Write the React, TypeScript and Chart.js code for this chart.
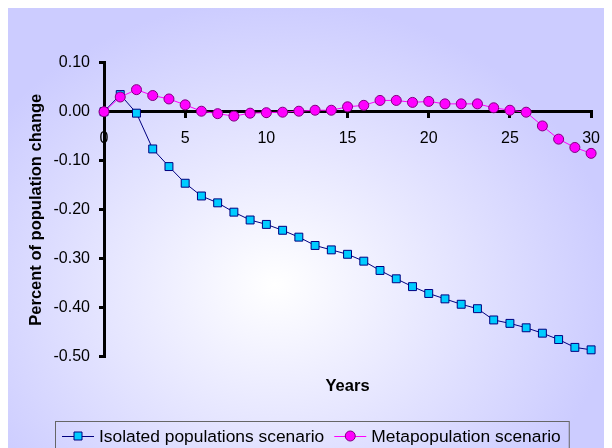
import React, { useEffect, useRef } from "react";
import { Chart, registerables } from "chart.js";

Chart.register(...registerables);

const years = [0, 1, 2, 3, 4, 5, 6, 7, 8, 9, 10, 11, 12, 13, 14, 15, 16, 17, 18, 19, 20, 21, 22, 23, 24, 25, 26, 27, 28, 29, 30];
const isolated = [0, 0.035, -0.003, -0.076, -0.112, -0.146, -0.172, -0.186, -0.205, -0.221, -0.23, -0.242, -0.256, -0.273, -0.282, -0.291, -0.305, -0.324, -0.341, -0.357, -0.371, -0.382, -0.393, -0.402, -0.425, -0.432, -0.441, -0.452, -0.465, -0.481, -0.486];
const metapopulation = [0, 0.03, 0.045, 0.033, 0.026, 0.014, 0.001, -0.004, -0.009, -0.003, -0.002, -0.001, 0.001, 0.003, 0.003, 0.01, 0.013, 0.023, 0.023, 0.019, 0.021, 0.016, 0.016, 0.016, 0.008, 0.003, -0.001, -0.029, -0.056, -0.073, -0.085];
const xTickValues = [0, 5, 10, 15, 20, 25, 30];
const yTickValues = [0.1, 0, -0.1, -0.2, -0.3, -0.4, -0.5];
const seriesNames = ["Isolated populations scenario", "Metapopulation scenario"];
const xTitle = "Years";
const yTitle = "Percent of population change";

const FONT = "'Liberation Sans', Arial, Helvetica, sans-serif";

const seriesStyles = [
  { line: "#000080", fill: "#00ccff", stroke: "#000080", marker: "rect" },
  { line: "#ff00ff", fill: "#ff00ff", stroke: "#800080", marker: "circle" },
];

const bgPlugin = {
  id: "bgGradient",
  beforeDraw(chart: any) {
    const { ctx, width, height } = chart;
    ctx.save();
    const cx = 267;
    const cy = 277;
    const rx = 340;
    const ry = 285;
    ctx.translate(cx, cy);
    ctx.scale(1, ry / rx);
    const g = ctx.createRadialGradient(0, 0, 0, 0, 0, rx);
    g.addColorStop(0, "#ffffff");
    g.addColorStop(1, "#ccccff");
    ctx.fillStyle = g;
    ctx.fillRect(-cx - 10, (-cy - 10) * (rx / ry), width + 20, (height + 20) * (rx / ry));
    ctx.restore();
  },
};

function drawMarker(ctx: CanvasRenderingContext2D, kind: string, x: number, y: number, fill: string, stroke: string) {
  ctx.beginPath();
  if (kind === "rect") {
    ctx.rect(x - 4, y - 4, 8, 8);
  } else {
    ctx.arc(x, y, 5, 0, Math.PI * 2);
  }
  ctx.fillStyle = fill;
  ctx.fill();
  ctx.lineWidth = 1;
  ctx.strokeStyle = stroke;
  ctx.stroke();
}

const legendPlugin = {
  id: "customLegend",
  afterDraw(chart: any) {
    const ctx: CanvasRenderingContext2D = chart.ctx;
    ctx.save();
    ctx.font = `17.4px ${FONT}`;
    ctx.textBaseline = "middle";
    ctx.textAlign = "left";
    const boxLeft = 47;
    const boxTop = 413;
    const cy = 428;
    let x = boxLeft + 7;
    let end = x;
    seriesNames.forEach((name, i) => {
      const st = seriesStyles[i];
      ctx.beginPath();
      ctx.moveTo(x, cy + 0.5);
      ctx.lineTo(x + 32, cy + 0.5);
      ctx.strokeStyle = st.line;
      ctx.lineWidth = 1;
      ctx.stroke();
      drawMarker(ctx, st.marker, x + 16, cy, st.fill, st.stroke);
      ctx.fillStyle = "#000";
      ctx.fillText(name, x + 37, cy + 1);
      end = x + 37 + ctx.measureText(name).width;
      x = end + 10;
    });
    ctx.strokeStyle = "#666666";
    ctx.lineWidth = 1;
    ctx.strokeRect(boxLeft + 0.5, boxTop + 0.5, end + 8 - boxLeft, 40);
    ctx.restore();
  },
};

export default function App() {
  const ref = useRef<HTMLCanvasElement | null>(null);
  useEffect(() => {
    if (!ref.current) return;
    const tickFont = { family: FONT, size: 16 };
    const titleFont = { family: FONT, size: 16.5, weight: "bold" as const };
    const chart = new Chart(ref.current, {
      type: "line",
      data: {
        datasets: [
          {
            label: seriesNames[0],
            data: years.map((yr, i) => ({ x: yr, y: isolated[i] })),
            borderColor: seriesStyles[0].line,
            backgroundColor: seriesStyles[0].fill,
            borderWidth: 1,
            pointStyle: "rect",
            pointRadius: 5.6,
            pointBackgroundColor: seriesStyles[0].fill,
            pointBorderColor: seriesStyles[0].stroke,
            pointBorderWidth: 1,
            tension: 0,
            clip: false as any,
            order: 2,
          },
          {
            label: seriesNames[1],
            data: years.map((yr, i) => ({ x: yr, y: metapopulation[i] })),
            borderColor: seriesStyles[1].line,
            backgroundColor: seriesStyles[1].fill,
            borderWidth: 1,
            pointStyle: "circle",
            pointRadius: 5,
            pointBackgroundColor: seriesStyles[1].fill,
            pointBorderColor: seriesStyles[1].stroke,
            pointBorderWidth: 1,
            tension: 0,
            clip: false as any,
            order: 1,
          },
        ],
      },
      options: {
        responsive: false,
        animation: false,
        layout: { padding: { top: 54.7, right: 14, bottom: 0, left: 0 } },
        plugins: {
          legend: { display: false },
          tooltip: { enabled: false },
        },
        scales: {
          x: {
            type: "linear",
            position: { y: 0 } as any,
            min: 0,
            max: 30,
            afterBuildTicks: (s: any) => {
              s.ticks = xTickValues.map((v) => ({ value: v }));
            },
            ticks: { font: tickFont, color: "#000", padding: 12, maxRotation: 0 },
            grid: { drawOnChartArea: false, drawTicks: true, tickLength: 5, color: "#000", lineWidth: 3 },
            border: { display: true, color: "#000", width: 3 },
          },
          x2: {
            type: "linear",
            position: "bottom",
            min: 0,
            max: 30,
            ticks: { display: false },
            grid: { display: false },
            border: { display: false },
            title: { display: true, text: xTitle, font: titleFont, color: "#000", padding: { top: 0, bottom: 51.3 } },
            afterFit: (s: any) => {
              s.height = 91.3;
            },
          },
          y: {
            type: "linear",
            position: "left",
            min: -0.5,
            max: 0.1,
            afterBuildTicks: (s: any) => {
              s.ticks = yTickValues.map((v) => ({ value: v }));
            },
            ticks: {
              font: tickFont,
              color: "#000",
              padding: 9,
              callback: (v: any) => Number(v).toFixed(2),
            },
            grid: { drawOnChartArea: false, drawTicks: true, tickLength: 5, color: "#000", lineWidth: 3 },
            border: { display: true, color: "#000", width: 3 },
            title: { display: true, text: yTitle, font: titleFont, color: "#000", padding: { top: 18.1, bottom: 0 } },
            afterFit: (s: any) => {
              s.width = 96;
            },
          },
        },
      },
      plugins: [bgPlugin, legendPlugin],
    });
    return () => chart.destroy();
  }, []);
  return <canvas ref={ref} width={604} height={440} style={{ display: "block" }} />;
}
